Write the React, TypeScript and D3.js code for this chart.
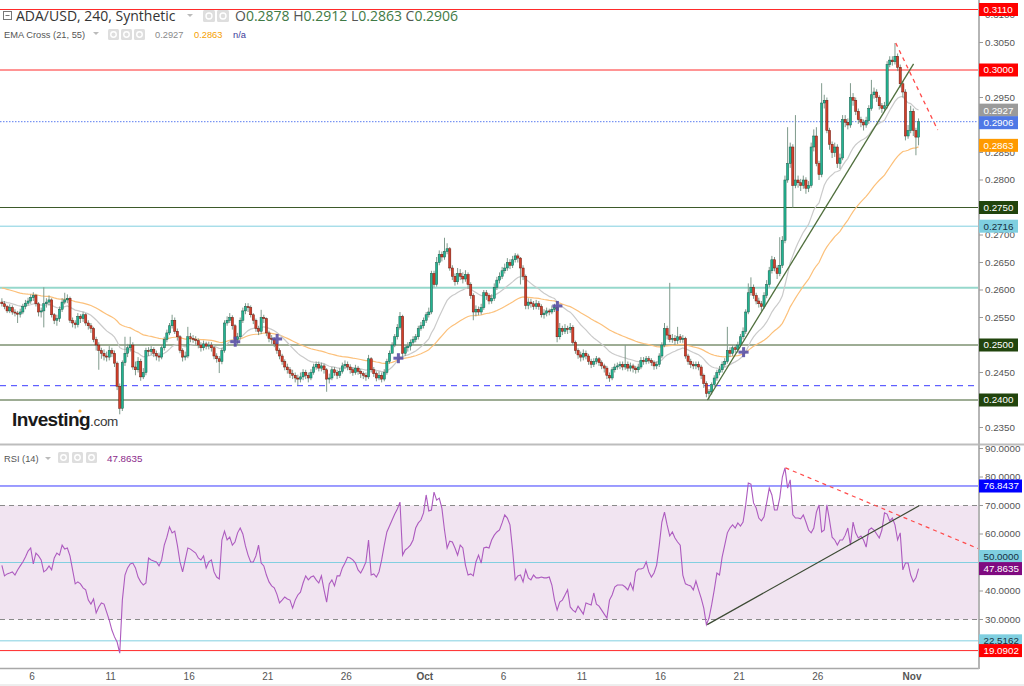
import React from 'react';
import * as d3 from 'd3';

// ---------- DATA (prices ×1e-4, 4h candles from 2023-09-04 00:00 UTC) ----------
const START = Date.UTC(2023, 8, 4, 0, 0);
const STEP = 4 * 3600 * 1000;
const firstOpen = 2578;
const closes = [
  2575,2570,2562,2568,2560,2558,2556,2560,2570,2576,2580,2586,2590,2575,2560,2562,2575,2578,2582,2555,
  2545,2548,2565,2578,2582,2585,2545,2540,2537,2552,2548,2555,2540,2535,2530,2510,2500,2490,2485,2480,
  2478,2490,2485,2467,2425,2385,2468,2485,2495,2500,2460,2455,2470,2442,2450,2490,2488,2492,2485,2480,
  2478,2495,2510,2522,2535,2545,2525,2515,2490,2478,2480,2515,2512,2510,2508,2500,2495,2502,2498,2500,
  2495,2480,2475,2470,2490,2540,2545,2550,2535,2510,2515,2545,2562,2570,2568,2555,2545,2530,2525,2550,
  2548,2522,2512,2510,2502,2490,2480,2470,2460,2455,2448,2445,2440,2438,2442,2450,2445,2440,2450,2460,
  2465,2458,2462,2455,2438,2440,2455,2450,2445,2452,2462,2465,2460,2455,2450,2458,2452,2448,2445,2442,
  2475,2455,2448,2440,2445,2438,2450,2470,2485,2500,2515,2532,2552,2485,2495,2498,2505,2510,2515,2530,
  2535,2545,2555,2560,2630,2610,2650,2665,2660,2670,2675,2640,2625,2615,2630,2625,2620,2628,2610,2590,
  2560,2565,2560,2568,2595,2590,2580,2585,2605,2618,2625,2635,2640,2650,2645,2655,2662,2658,2640,2625,
  2572,2578,2575,2570,2575,2570,2555,2558,2562,2560,2565,2568,2515,2530,2525,2530,2528,2532,2505,2490,
  2482,2478,2485,2480,2470,2465,2470,2475,2468,2462,2458,2445,2440,2455,2460,2462,2465,2460,2465,2458,
  2462,2458,2455,2460,2472,2470,2475,2472,2468,2462,2465,2480,2500,2530,2518,2510,2512,2508,2515,2510,
  2512,2480,2470,2465,2462,2465,2460,2445,2430,2412,2415,2428,2440,2450,2455,2465,2470,2490,2485,2495,
  2492,2500,2515,2525,2560,2595,2605,2590,2580,2575,2570,2590,2610,2635,2655,2640,2630,2645,2690,2800,
  2830,2860,2790,2800,2795,2790,2800,2785,2790,2860,2880,2830,2810,2940,2945,2890,2865,2850,2860,2830,
  2840,2910,2905,2900,2950,2945,2925,2910,2905,2900,2908,2930,2955,2960,2950,2935,2930,2935,3010,3018,
  3015,3025,3005,2975,2960,2880,2890,2925,2890,2878,2906,
];
const highs = [
  2585,2580,2573,2574,2572,2565,2562,2566,2575,2582,2586,2592,2596,2593,2578,2568,2605,2585,2590,2585,
  2558,2555,2570,2585,2595,2592,2588,2550,2545,2558,2556,2560,2558,2545,2540,2533,2515,2505,2495,2492,
  2488,2498,2495,2490,2470,2430,2472,2515,2502,2515,2505,2470,2478,2475,2458,2495,2496,2498,2496,2490,
  2486,2500,2515,2528,2540,2555,2550,2530,2518,2494,2488,2533,2522,2518,2516,2512,2505,2508,2506,2506,
  2505,2498,2485,2480,2495,2545,2552,2558,2554,2538,2522,2550,2568,2576,2576,2572,2558,2548,2535,2564,
  2555,2550,2526,2518,2514,2505,2494,2484,2474,2466,2460,2455,2450,2446,2450,2456,2455,2450,2456,2466,
  2470,2470,2468,2466,2458,2448,2460,2460,2455,2458,2468,2472,2470,2465,2460,2464,2462,2456,2452,2450,
  2482,2478,2460,2452,2452,2450,2456,2475,2490,2505,2520,2538,2560,2555,2500,2505,2510,2516,2520,2535,
  2542,2550,2560,2568,2635,2635,2660,2672,2670,2695,2685,2678,2645,2630,2640,2638,2632,2636,2632,2614,
  2594,2572,2570,2575,2600,2600,2594,2592,2612,2624,2632,2642,2648,2658,2656,2662,2667,2666,2660,2645,
  2628,2585,2584,2580,2582,2580,2574,2565,2568,2566,2572,2575,2572,2540,2535,2538,2535,2540,2536,2508,
  2494,2488,2492,2490,2484,2475,2476,2480,2478,2472,2466,2462,2450,2460,2466,2468,2470,2470,2500,2470,
  2468,2466,2462,2466,2478,2478,2480,2480,2476,2472,2470,2485,2505,2540,2535,2613,2520,2518,2533,2520,
  2518,2515,2484,2475,2470,2470,2470,2464,2448,2434,2420,2432,2445,2455,2462,2470,2476,2533,2496,2500,
  2500,2506,2520,2532,2565,2612,2623,2610,2595,2586,2580,2596,2618,2642,2662,2660,2645,2696,2698,2808,
  2896,2868,2865,2918,2808,2802,2808,2805,2798,2868,2892,2896,2835,2976,2955,2950,2895,2870,2868,2865,
  2848,2918,2918,2912,2976,2958,2950,2930,2915,2910,2915,2936,2982,2968,2965,2954,2940,2942,3016,3025,
  3025,3049,3030,3010,2980,2965,2900,2935,2930,2895,2912,
];
const lows = [
  2570,2565,2558,2558,2555,2552,2540,2550,2556,2565,2572,2575,2580,2570,2552,2550,2532,2568,2572,2550,
  2538,2535,2542,2560,2574,2576,2540,2532,2530,2532,2540,2542,2535,2528,2522,2505,2490,2455,2475,2472,
  2470,2472,2478,2460,2418,2374,2380,2462,2478,2488,2455,2445,2450,2435,2438,2445,2480,2482,2478,2472,
  2470,2474,2490,2505,2518,2530,2520,2508,2485,2470,2472,2476,2505,2504,2500,2494,2488,2490,2492,2492,
  2488,2474,2468,2449,2465,2486,2535,2540,2528,2505,2500,2510,2540,2556,2560,2550,2538,2524,2518,2520,
  2540,2516,2505,2502,2496,2484,2474,2464,2454,2448,2440,2438,2432,2427,2432,2436,2438,2432,2436,2446,
  2455,2452,2452,2448,2415,2430,2436,2444,2438,2440,2448,2456,2454,2448,2444,2446,2446,2440,2438,2435,
  2438,2450,2442,2434,2436,2432,2434,2446,2466,2488,2496,2510,2528,2478,2480,2488,2490,2500,2505,2510,
  2526,2530,2540,2550,2556,2605,2606,2645,2652,2655,2665,2635,2618,2608,2610,2618,2612,2615,2602,2584,
  2545,2552,2554,2555,2564,2582,2574,2575,2580,2600,2612,2620,2630,2635,2638,2640,2650,2650,2610,2618,
  2565,2565,2568,2564,2565,2564,2550,2548,2552,2554,2556,2560,2505,2510,2518,2520,2520,2522,2500,2484,
  2475,2470,2472,2474,2464,2458,2460,2465,2462,2456,2450,2438,2433,2436,2450,2455,2456,2454,2455,2452,
  2452,2450,2448,2450,2456,2464,2465,2466,2462,2455,2456,2460,2476,2496,2510,2505,2504,2500,2502,2504,
  2504,2475,2464,2458,2456,2456,2454,2438,2422,2405,2400,2410,2424,2435,2445,2450,2460,2466,2478,2480,
  2486,2486,2496,2510,2520,2556,2590,2584,2574,2568,2562,2566,2585,2605,2630,2634,2620,2625,2640,2685,
  2795,2822,2750,2785,2786,2780,2784,2775,2778,2786,2852,2825,2800,2805,2930,2885,2855,2840,2842,2822,
  2820,2836,2896,2892,2895,2935,2918,2902,2896,2890,2895,2902,2926,2948,2942,2928,2922,2925,2930,3005,
  3008,3010,2998,2968,2950,2872,2875,2885,2880,2845,2863,
];
// RSI(14), one value per candle
const rsiValues = [
  49,45.3,46,46.3,46.7,45.6,47.4,48.8,50.2,51.9,54,55.1,49.5,53.3,52.3,50.9,46.7,47.4,48.8,47.4,
  51.6,53.3,52.6,56.1,54.7,55.1,52.3,47.4,42.5,43.2,42.5,41.1,40.4,36.8,35.4,37.2,32.3,34.4,35.8,35.4,
  32.6,29.8,26.3,23.9,22.1,18.2,36.8,45.6,48.1,49.5,49.8,48.1,44.9,43.2,42.1,42.8,51.6,50.9,50.5,50.2,
  48.8,50.9,56.1,58.9,62.5,60.4,61,56.1,50.2,46.7,50.9,55.1,54.7,54,53.3,51.6,50.9,52.3,48.1,50.2,
  50.9,46.7,44.9,44.2,57.9,61,57.9,58.9,56.1,57.2,60.4,62.1,60,55.8,52.6,50.2,50.2,52.3,56.1,49.8,
  48.8,45.6,43.2,41.8,41.1,38.9,35.8,36.8,37.9,37.2,36.8,34,36.8,38.6,39.6,42.8,45.3,43.9,44.9,45.3,
  43.9,42.8,45.3,40.4,36.1,42.5,43.9,41.8,45.3,45.3,48.1,49.8,51.9,51.6,50.9,49.8,47.4,46.3,48.1,50.2,
  57.9,45.6,46,44.9,46.7,50.9,56.1,60.7,62.8,64.9,67,68.8,71.2,52.6,54.4,55.1,56.1,57.9,62.1,63.9,
  64.9,67.4,73.7,68.1,68.4,74.7,71.9,72.6,69.1,61.4,55.1,57.5,57.2,55.1,52.6,56.1,55.1,49.1,45.6,46,
  45.3,50.2,52.6,49.8,55.1,55.4,55.1,57.9,59.6,60.7,61.4,63.9,66.7,65.6,63.2,54.4,43.9,45.3,45.6,43.2,
  47.4,44.6,43.9,45.6,44.6,44.6,44.9,44.6,44.6,44.9,42.1,36.8,33.3,36.1,36.8,38.6,40.4,34.4,33.3,32.6,
  34.7,33.3,31.9,35.8,35.4,35.1,39.3,35.4,34.7,33.3,31.9,30.5,36.8,38.6,41.4,42.1,42.1,42.1,41.4,40.4,
  42.8,40.4,46.7,47.7,47.7,48.1,50.2,46.7,44.9,46.3,49.1,56.1,64.2,67.7,63.2,59.3,60.7,58.6,57.2,56.1,
  45.6,42.5,42.1,41.8,40.4,43.5,40.4,37.5,34,28.2,30.5,35.1,40.4,46.3,45.6,51.9,56.1,60.4,62.1,63.2,
  62.1,63.9,62.8,64.2,70.2,77.9,77.5,70.9,69.1,65.6,64.6,66,70.9,76.1,73.7,68.4,68.4,72.6,80,83.2,
  76.1,79,66.7,65.6,65.6,65.3,66.7,64.2,61.4,60.4,62.1,67.7,70.2,60.7,61.4,70.2,64.9,58.9,57.9,56.1,
  57.9,57.9,59.6,62.1,56.1,64.2,60.4,58.6,59.3,57.9,55.4,61.4,62.1,61.4,60,58.6,61.4,67.4,67,64.6,
  65.6,63.2,57.9,60.4,47.4,49.8,49.8,45.6,43.2,44.6,47.86,
];

// EMA seeds read at left edge of the chart
const ema21Seed = 0.2580;
const ema55Seed = 0.2605;

const priceTicks = [0.2350,0.2400,0.2450,0.2500,0.2550,0.2600,0.2650,0.2700,0.2750,0.2800,0.2850,0.2900,0.2950,0.3000,0.3050,0.3100];
const priceTickLabels = [0.2350,0.2450,0.2550,0.2600,0.2650,0.2700,0.2800,0.2850,0.2950,0.3050,0.3100];
const rsiTicks = [20,30,40,50,60,70,80,90];
const rsiTickLabels = [30,40,60,70,80,90];
const xTickDates = ['2023-09-06','2023-09-11','2023-09-16','2023-09-21','2023-09-26','2023-10-01','2023-10-06','2023-10-11','2023-10-16','2023-10-21','2023-10-26','2023-11-01'];
const xTickLabels = ['6','11','16','21','26','Oct','6','11','16','21','26','Nov'];

// horizontal drawn levels
const priceLevels = [0.3110, 0.3000, 0.2750, 0.2716, 0.2604, 0.2500, 0.2426, 0.2400];
const priceLevelKinds = ['red','red','green','cyan','teal','green','bluedash','green'];
const lastPrice = 0.2906;
const emaLabelValues = [0.2927, 0.2863];
const rsiLevels = [76.8437, 50, 22.5162, 19.0902];
const rsiLevelKinds = ['blue','cyan','cyan','red'];
const rsiLast = 47.8635;

// EMA cross markers (candle index, price)
const crossIdx = [89.1, 105.1, 151.4, 212.1, 283.2];
const crossPrice = [0.2506, 0.2511, 0.2476, 0.2571, 0.2487];

// trend lines [idx0, v0, idx1, v1]
const priceTrendUp = [269.4, 0.2400, 348.1, 0.3011];
const priceTrendDown = [341.3, 0.3049, 357.3, 0.2891];
const rsiTrendUp = [269.3, 28.2, 350.2, 69.9];
const rsiTrendDown = [299.2, 83.2, 374, 54.4];

// ---------- helpers ----------
const P = 1e-4;
function emaCalc(vals: number[], n: number, seed: number) {
  const k = 2 / (n + 1);
  let e = seed;
  return vals.map(v => (e = v * k + e * (1 - k)));
}

const FONT = "'Liberation Sans', Arial, sans-serif";
const HFONT = "'Open Sans', 'Liberation Sans', Arial, sans-serif";

export default function App() {
  const x = d3.scaleUtc()
    .domain([new Date(Date.UTC(2023, 8, 6)), new Date(Date.UTC(2023, 10, 1))])
    .range([32, 912]);
  // candles drawn at the middle of their 4h period
  const xi = (i: number) => x(new Date(START + i * STEP + STEP / 2));
  const y = d3.scaleLinear().domain([0.24, 0.30]).range([400, 70]);
  const yr = d3.scaleLinear().domain([30, 70]).range([619.5, 505.5]);

  const c = closes.map(v => v * P);
  const candles = closes.map((v, i) => ({
    i, o: (i === 0 ? firstOpen : closes[i - 1]) * P, c: v * P, h: highs[i] * P, l: lows[i] * P,
  }));
  const e21 = emaCalc(c, 21, ema21Seed);
  const e55 = emaCalc(c, 55, ema55Seed);

  const lineP = d3.line<number>().x((_, i) => xi(i)).y(d => y(d));
  const lineR = d3.line<number>().x((_, i) => xi(i)).y(d => yr(d));

  const AX = 979;
  const levelStyle: Record<string, any> = {
    red: { stroke: '#ff2a2a', w: 1, dash: '' },
    green: { stroke: '#3d5a2a', w: 1, dash: '' },
    cyan: { stroke: '#82cfe0', w: 1, dash: '' },
    teal: { stroke: '#96d8cc', w: 2, dash: '' },
    bluedash: { stroke: '#3c3cff', w: 1, dash: '6,5' },
    blue: { stroke: '#3a3aff', w: 1, dash: '' },
  };
  const boxStyle: Record<string, any> = {
    red: { fill: '#ff0000', text: '#fff' },
    green: { fill: '#21440d', text: '#fff' },
    cyan: { fill: '#7fcfe0', text: '#163040' },
    blue: { fill: '#0000ff', text: '#fff' },
  };

  const fmt4 = d3.format('.4f');
  const Box = ({ yc, fill, text, label, w = 39 }: any) => (
    <g>
      <rect x={AX} y={yc - 6.5} width={w} height={13} fill={fill} />
      <text x={AX + 4.5} y={yc} dy="0.35em" fontSize={9.8} fill={text} fontFamily={FONT}>{label}</text>
    </g>
  );
  const IconBox = ({ bx, by, s = 12 }: any) => (
    <g>
      <rect x={bx} y={by} width={s} height={s} rx={1.5} fill="#dedede" />
      <circle cx={bx + s / 2} cy={by + s / 2} r={s / 4} fill="none" stroke="#fff" strokeWidth={1.4} />
    </g>
  );

  return (
    <svg width={1024} height={686} style={{ position: 'absolute', left: 0, top: 0, background: '#fff' }}>
      <defs>
        <clipPath id="cp"><rect x={0} y={0} width={AX} height={443} /></clipPath>
        <clipPath id="cr"><rect x={0} y={446} width={AX} height={222} /></clipPath>
      </defs>
      <rect x={0} y={0} width={1024} height={686} fill="#fff" />

      {/* ---------- PRICE PANEL ---------- */}
      <g clipPath="url(#cp)">
        {priceLevels.map((v, k) => {
          const s = levelStyle[priceLevelKinds[k]];
          return <line key={k} x1={0} x2={AX} y1={y(v)} y2={y(v)} stroke={s.stroke} strokeWidth={s.w} strokeDasharray={s.dash} />;
        })}
        <line x1={0} x2={AX} y1={y(lastPrice)} y2={y(lastPrice)} stroke="#5b7cf0" strokeWidth={1} strokeDasharray="1.5,1.5" />
        <path d={lineP(e55) || ''} fill="none" stroke="#fcc07a" strokeWidth={1.2} />
        <path d={lineP(e21) || ''} fill="none" stroke="#cacaca" strokeWidth={1.2} />
        {candles.map(d => {
          const cx = xi(d.i);
          const up = d.c >= d.o;
          const top = y(Math.max(d.o, d.c));
          const bh = Math.max(1, y(Math.min(d.o, d.c)) - top);
          return (
            <g key={d.i}>
              <line x1={cx} x2={cx} y1={y(d.h)} y2={y(d.l)} stroke="#7f9a8c" strokeWidth={1} />
              <rect x={cx - 1.1} y={top} width={2.2} height={bh}
                fill={up ? '#22b391' : '#d23f2a'} stroke={up ? '#1b5e4c' : '#6a1c12'} strokeWidth={0.5} />
            </g>
          );
        })}
        {crossIdx.map((ci, k) => {
          const cx = xi(ci), cy = y(crossPrice[k]);
          return (
            <g key={k} stroke="#5a50a6" strokeWidth={3} opacity={0.9}>
              <line x1={cx - 5} x2={cx + 5} y1={cy} y2={cy} />
              <line x1={cx} x2={cx} y1={cy - 5} y2={cy + 5} />
            </g>
          );
        })}
        <line x1={xi(priceTrendUp[0])} y1={y(priceTrendUp[1])} x2={xi(priceTrendUp[2])} y2={y(priceTrendUp[3])}
          stroke="#4f6e3c" strokeWidth={1.3} />
        <line x1={xi(priceTrendDown[0])} y1={y(priceTrendDown[1])} x2={xi(priceTrendDown[2])} y2={y(priceTrendDown[3])}
          stroke="#ff4a4a" strokeWidth={1.3} strokeDasharray="4,4" />
      </g>

      {/* logo */}
      <text x={12} y={426} fontFamily={FONT} fontWeight="bold" fontSize={19} fill="#1a1a1a" letterSpacing={-0.6}>
        Investing<tspan fontWeight="normal" fontSize={13.5} fill="#3a3a3a" letterSpacing={-0.3}>.com</tspan>
      </text>
      <circle cx={80} cy={411} r={1.6} fill="#f4a11f" />

      {/* headers */}
      <g>
        <rect x={3.5} y={11.5} width={8} height={8} fill="none" stroke="#777" strokeWidth={1} />
        <line x1={5.5} x2={9.5} y1={15.5} y2={15.5} stroke="#777" />
        <text x={16} y={21} fontSize={14} fill="#333" fontFamily={HFONT}>ADA/USD, 240, Synthetic</text>
        <path d="M187 14 l6 0 l-3 3 z" fill="#bbb" />
        <IconBox bx={203} by={10} />
        <IconBox bx={217} by={10} />
        <text x={235} y={21} fontSize={14} fill="#555" fontFamily={HFONT}>O<tspan fill="#3f7a45">0.2878</tspan> H<tspan fill="#3f7a45">0.2912</tspan> L<tspan fill="#3f7a45">0.2863</tspan> C<tspan fill="#3f7a45">0.2906</tspan></text>

        <g fontFamily={FONT} fontSize={9.3}>
          <text x={4} y={37.5} fill="#555">EMA Cross (21, 55)</text>
          <path d="M93 32 l6 0 l-3 3 z" fill="#bbb" />
          <IconBox bx={108} by={29} s={11} />
          <IconBox bx={121} by={29} s={11} />
          <IconBox bx={134} by={29} s={11} />
          <text x={155} y={37.5} fill="#8a8a8a">{fmt4(emaLabelValues[0])}</text>
          <text x={194} y={37.5} fill="#f5a000">{fmt4(emaLabelValues[1])}</text>
          <text x={233} y={37.5} fill="#3a3a9a">n/a</text>

          <text x={4} y={462} fill="#555">RSI (14)</text>
          <path d="M45 457 l6 0 l-3 3 z" fill="#bbb" />
          <IconBox bx={58} by={452} s={11} />
          <IconBox bx={72} by={452} s={11} />
          <IconBox bx={86} by={452} s={11} />
          <text x={107} y={462} fill="#8b2a8b" fontSize={9.8}>{fmt4(rsiLast)}</text>
        </g>
      </g>

      {/* ---------- RSI PANEL ---------- */}
      <g clipPath="url(#cr)">
        <rect x={0} y={yr(70)} width={AX} height={yr(30) - yr(70)} fill="#f1e4f1" />
        <line x1={0} x2={AX} y1={yr(70)} y2={yr(70)} stroke="#8a8a8a" strokeDasharray="5,4" />
        <line x1={0} x2={AX} y1={yr(30)} y2={yr(30)} stroke="#8a8a8a" strokeDasharray="5,4" />
        {rsiLevels.map((v, k) => {
          const s = levelStyle[rsiLevelKinds[k]];
          return <line key={k} x1={0} x2={AX} y1={yr(v)} y2={yr(v)} stroke={s.stroke} strokeWidth={1} />;
        })}
        <path d={lineR(rsiValues) || ''} fill="none" stroke="#ad5bbf" strokeWidth={1.1} />
        <line x1={xi(rsiTrendUp[0])} y1={yr(rsiTrendUp[1])} x2={xi(rsiTrendUp[2])} y2={yr(rsiTrendUp[3])}
          stroke="#3c4a34" strokeWidth={1.2} />
        <line x1={xi(rsiTrendDown[0])} y1={yr(rsiTrendDown[1])} x2={xi(rsiTrendDown[2])} y2={yr(rsiTrendDown[3])}
          stroke="#ff4a4a" strokeWidth={1.2} strokeDasharray="4,4" />
      </g>

      {/* frames */}
      <line x1={0} x2={1024} y1={444.5} y2={444.5} stroke="#bdbdbd" strokeWidth={2} />
      <line x1={0} x2={AX} y1={668.5} y2={668.5} stroke="#a8a8a8" strokeWidth={1.5} />
      <line x1={0} x2={1024} y1={685} y2={685} stroke="#dcdcdc" strokeWidth={1} />
      <line x1={AX} x2={AX} y1={0} y2={669} stroke="#b5b5b5" strokeWidth={2} />

      {/* axes ticks */}
      <g fontFamily={FONT} fontSize={9.8} fill="#555">
        {priceTicks.map(v => <line key={'p' + v} x1={AX} x2={AX + 4} y1={y(v)} y2={y(v)} stroke="#999" />)}
        {priceTickLabels.map(v => <text key={'pl' + v} x={AX + 6} y={y(v)} dy="0.35em">{fmt4(v)}</text>)}
        {rsiTicks.map(v => <line key={'r' + v} x1={AX} x2={AX + 4} y1={yr(v)} y2={yr(v)} stroke="#999" />)}
        {rsiTickLabels.map(v => <text key={'rl' + v} x={AX + 6} y={yr(v)} dy="0.35em">{fmt4(v)}</text>)}
      </g>
      {priceLevels.map((v, k) => {
        const kind = priceLevelKinds[k];
        if (!boxStyle[kind]) return null;
        const b = boxStyle[kind];
        return <Box key={k} yc={y(v)} fill={b.fill} text={b.text} label={fmt4(v)} />;
      })}
      <Box yc={y(emaLabelValues[0])} fill="#9a9a9a" text="#fff" label={fmt4(emaLabelValues[0])} />
      <Box yc={y(lastPrice) + 1} fill="#4f78e6" text="#fff" label={fmt4(lastPrice)} />
      <Box yc={y(emaLabelValues[1])} fill="#ff9a00" text="#fff" label={fmt4(emaLabelValues[1])} />
      {rsiLevels.map((v, k) => {
        const b = boxStyle[rsiLevelKinds[k]];
        const off = v === 50 ? -6 : 0;
        return <Box key={k} yc={yr(v) + off} fill={b.fill} text={b.text} label={fmt4(v)} w={43} />;
      })}
      <Box yc={yr(rsiLast)} fill="#7f0a80" text="#fff" label={fmt4(rsiLast)} w={43} />

      {/* x axis */}
      <g fontFamily={FONT} fontSize={10} fill="#555" textAnchor="middle">
        {xTickDates.map((d, k) => (
          <text key={k} x={x(new Date(d + 'T00:00:00Z'))} y={680} fontWeight={xTickLabels[k].length === 3 ? 'bold' : 'normal'}>
            {xTickLabels[k]}
          </text>
        ))}
      </g>
    </svg>
  );
}
